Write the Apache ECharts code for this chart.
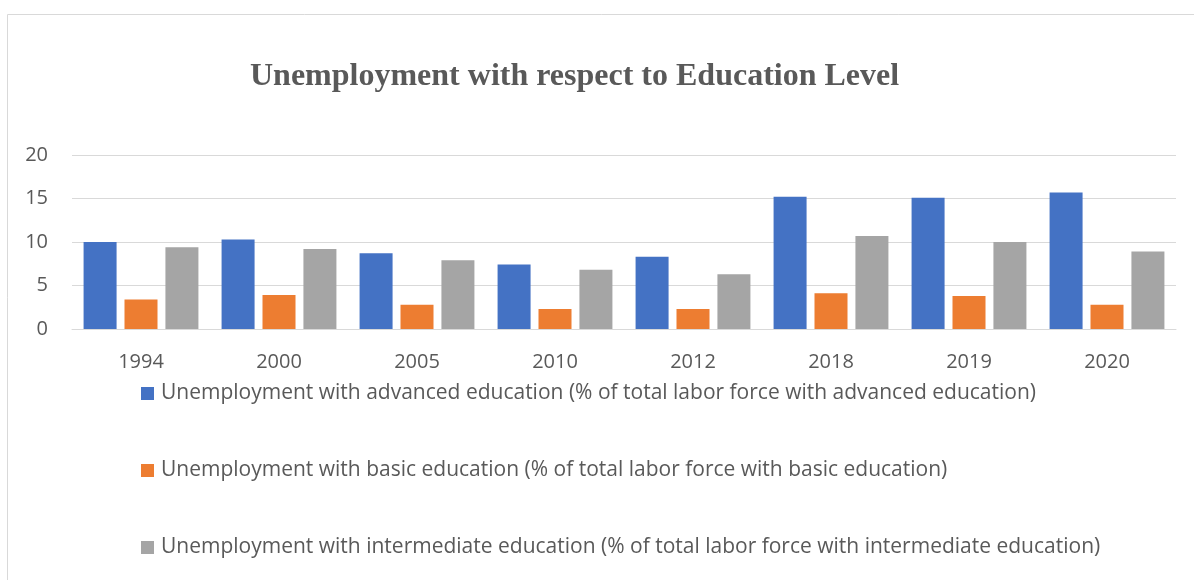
<!DOCTYPE html>
<html>
<head>
<meta charset="utf-8">
<script src="https://cdn.jsdelivr.net/npm/echarts@6/dist/echarts.min.js"></script>
<style>
  body { margin: 0; background: #fff; }
  #main { width: 1194px; height: 580px; }
</style>
</head>
<body>
<div id="main"></div>
<script>
// years on the x axis
var years = ['1994', '2000', '2005', '2010', '2012', '2018', '2019', '2020'];

// values (% of labor force)
var advanced = [10.0, 10.3, 8.7, 7.4, 8.3, 15.2, 15.1, 15.7];
var basic = [3.4, 3.9, 2.8, 2.3, 2.3, 4.1, 3.8, 2.8];
var intermediate = [9.4, 9.2, 7.9, 6.8, 6.3, 10.7, 10.0, 8.9];

var seriesNames = [
    'Unemployment with advanced education (% of total labor force with advanced education)',
    'Unemployment with basic education (% of total labor force with basic education)',
    'Unemployment with intermediate education (% of total labor force with intermediate education)'
];

var textFont = '"Open Sans", "Liberation Sans", sans-serif';

function makeBar(name, data, color) {
    return {
        name: name,
        type: 'bar',
        data: data,
        barWidth: 33,
        barGap: '24%',
        itemStyle: { color: color }
    };
}

var myChart = echarts.init(document.getElementById('main'));
var option = {
    animation: false,
    color: ['#4472C4', '#ED7D31', '#A5A5A5'],
    title: {
        text: 'Unemployment with respect to Education Level',
        left: 250,
        top: 61,
        padding: 0,
        textStyle: {
            fontFamily: '"Liberation Serif", serif',
            fontWeight: 'bold',
            fontSize: 32,
            color: '#595959'
        }
    },
    graphic: [{
        type: 'rect',
        shape: { x: 7.5, y: 14.5, width: 1300, height: 700 },
        style: { fill: 'none', stroke: '#d9d9d9', lineWidth: 1 },
        silent: true
    }],
    legend: {
        orient: 'vertical',
        left: 141,
        top: 383,
        padding: 0,
        itemWidth: 13,
        itemHeight: 13,
        itemGap: 56,
        icon: 'rect',
        data: seriesNames,
        textStyle: {
            fontFamily: textFont,
            fontSize: 21,
            lineHeight: 20,
            color: '#595959',
            padding: [0, 0, 0, 2]
        }
    },
    grid: {
        left: 72,
        right: 18,
        top: 155,
        height: 174
    },
    xAxis: {
        type: 'category',
        data: years,
        axisLine: { lineStyle: { color: '#d9d9d9' } },
        axisTick: { show: false },
        axisLabel: {
            margin: 23,
            fontFamily: textFont,
            fontSize: 20,
            color: '#595959'
        }
    },
    yAxis: {
        type: 'value',
        min: 0,
        max: 20,
        interval: 5,
        axisLine: { show: false },
        axisTick: { show: false },
        splitLine: { lineStyle: { color: '#d9d9d9', width: 1 } },
        axisLabel: {
            margin: 24,
            fontFamily: textFont,
            fontSize: 20,
            color: '#595959'
        }
    },
    series: [
        makeBar(seriesNames[0], advanced, '#4472C4'),
        makeBar(seriesNames[1], basic, '#ED7D31'),
        makeBar(seriesNames[2], intermediate, '#A5A5A5')
    ]
};

myChart.setOption(option);
</script>
</body>
</html>
